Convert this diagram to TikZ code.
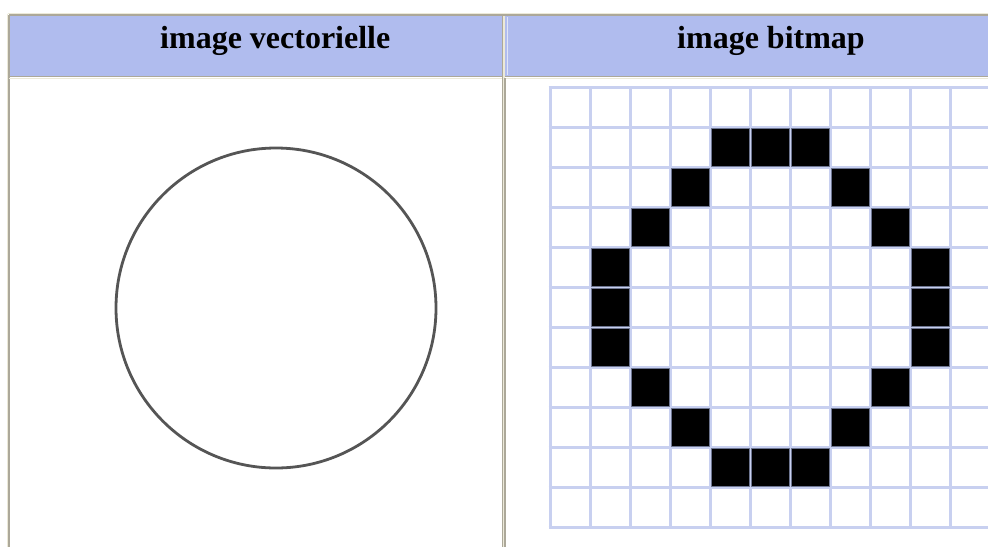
\documentclass[tikz,border=0pt]{standalone}
\usepackage{fontspec}
\setmainfont{Liberation Serif}
\definecolor{hdrblue}{RGB}{176,188,238}
\definecolor{edgelight}{RGB}{236,233,216}
\definecolor{edgedark}{RGB}{172,168,153}
\definecolor{gridblue}{RGB}{200,208,240}
\definecolor{pixedge}{RGB}{110,118,145}
\definecolor{ringgray}{RGB}{85,85,85}
\tikzset{
  hdrtext/.style={font=\fontsize{32}{36}\selectfont\bfseries, inner sep=0pt, anchor=base west, text=black},
  gridline/.style={draw=gridblue, line width=3pt},
  pixel/.style={fill=black, draw=pixedge, line width=1pt},
  ring/.style={draw=ringgray, line width=2.8pt}
}
\begin{document}
\begin{tikzpicture}[x=1pt,y=-1pt]
\useasboundingbox (0,0) rectangle (988,547);
\fill[white] (0,0) rectangle (988,547);
% header background
\fill[hdrblue] (9,16) rectangle (988,76);
% outer borders
\draw[edgelight, line width=1pt] (7.5,13.5) -- (988,13.5);
\draw[edgedark, line width=1.6pt] (9,15) -- (988,15);
\draw[edgelight, line width=1pt] (7.5,13.5) -- (7.5,547);
\draw[edgedark, line width=1.6pt] (9,15) -- (9,547);
% header bottom
\draw[edgedark, line width=1.6pt] (9,76.5) -- (988,76.5);
\draw[edgelight, line width=1pt] (9,78) -- (988,78);
% column divider
\fill[edgelight] (502,16) rectangle (505,547);
\draw[edgedark, line width=1.4pt] (502.5,16) -- (502.5,547);
\draw[edgedark, line width=1.2pt] (505,78) -- (505,547);
\draw[white!60!hdrblue, line width=1pt] (507.5,17) -- (507.5,75);
% header texts
\node[hdrtext] (hv) at (160,48) {image vectorielle};
\node[hdrtext] (hb) at (677,48) {image bitmap};
% vector circle
\draw[ring] (276,308) circle (160);
% bitmap grid
\begin{scope}
\clip (540,80) rectangle (988,540);
\foreach \i in {0,...,11} {
  \draw[gridline] (550+40*\i,87) -- (550+40*\i,527);
}
\foreach \j in {0,...,11} {
  \draw[gridline] (548.5,87+40*\j) -- (1000,87+40*\j);
}
\foreach \c/\r in {4/1,5/1,6/1,3/2,7/2,2/3,8/3,1/4,9/4,1/5,9/5,1/6,9/6,2/7,8/7,3/8,7/8,4/9,5/9,6/9} {
  \draw[pixel] (551+40*\c,88+40*\r) rectangle (589+40*\c,126+40*\r);
}
\end{scope}
\end{tikzpicture}
\end{document}
